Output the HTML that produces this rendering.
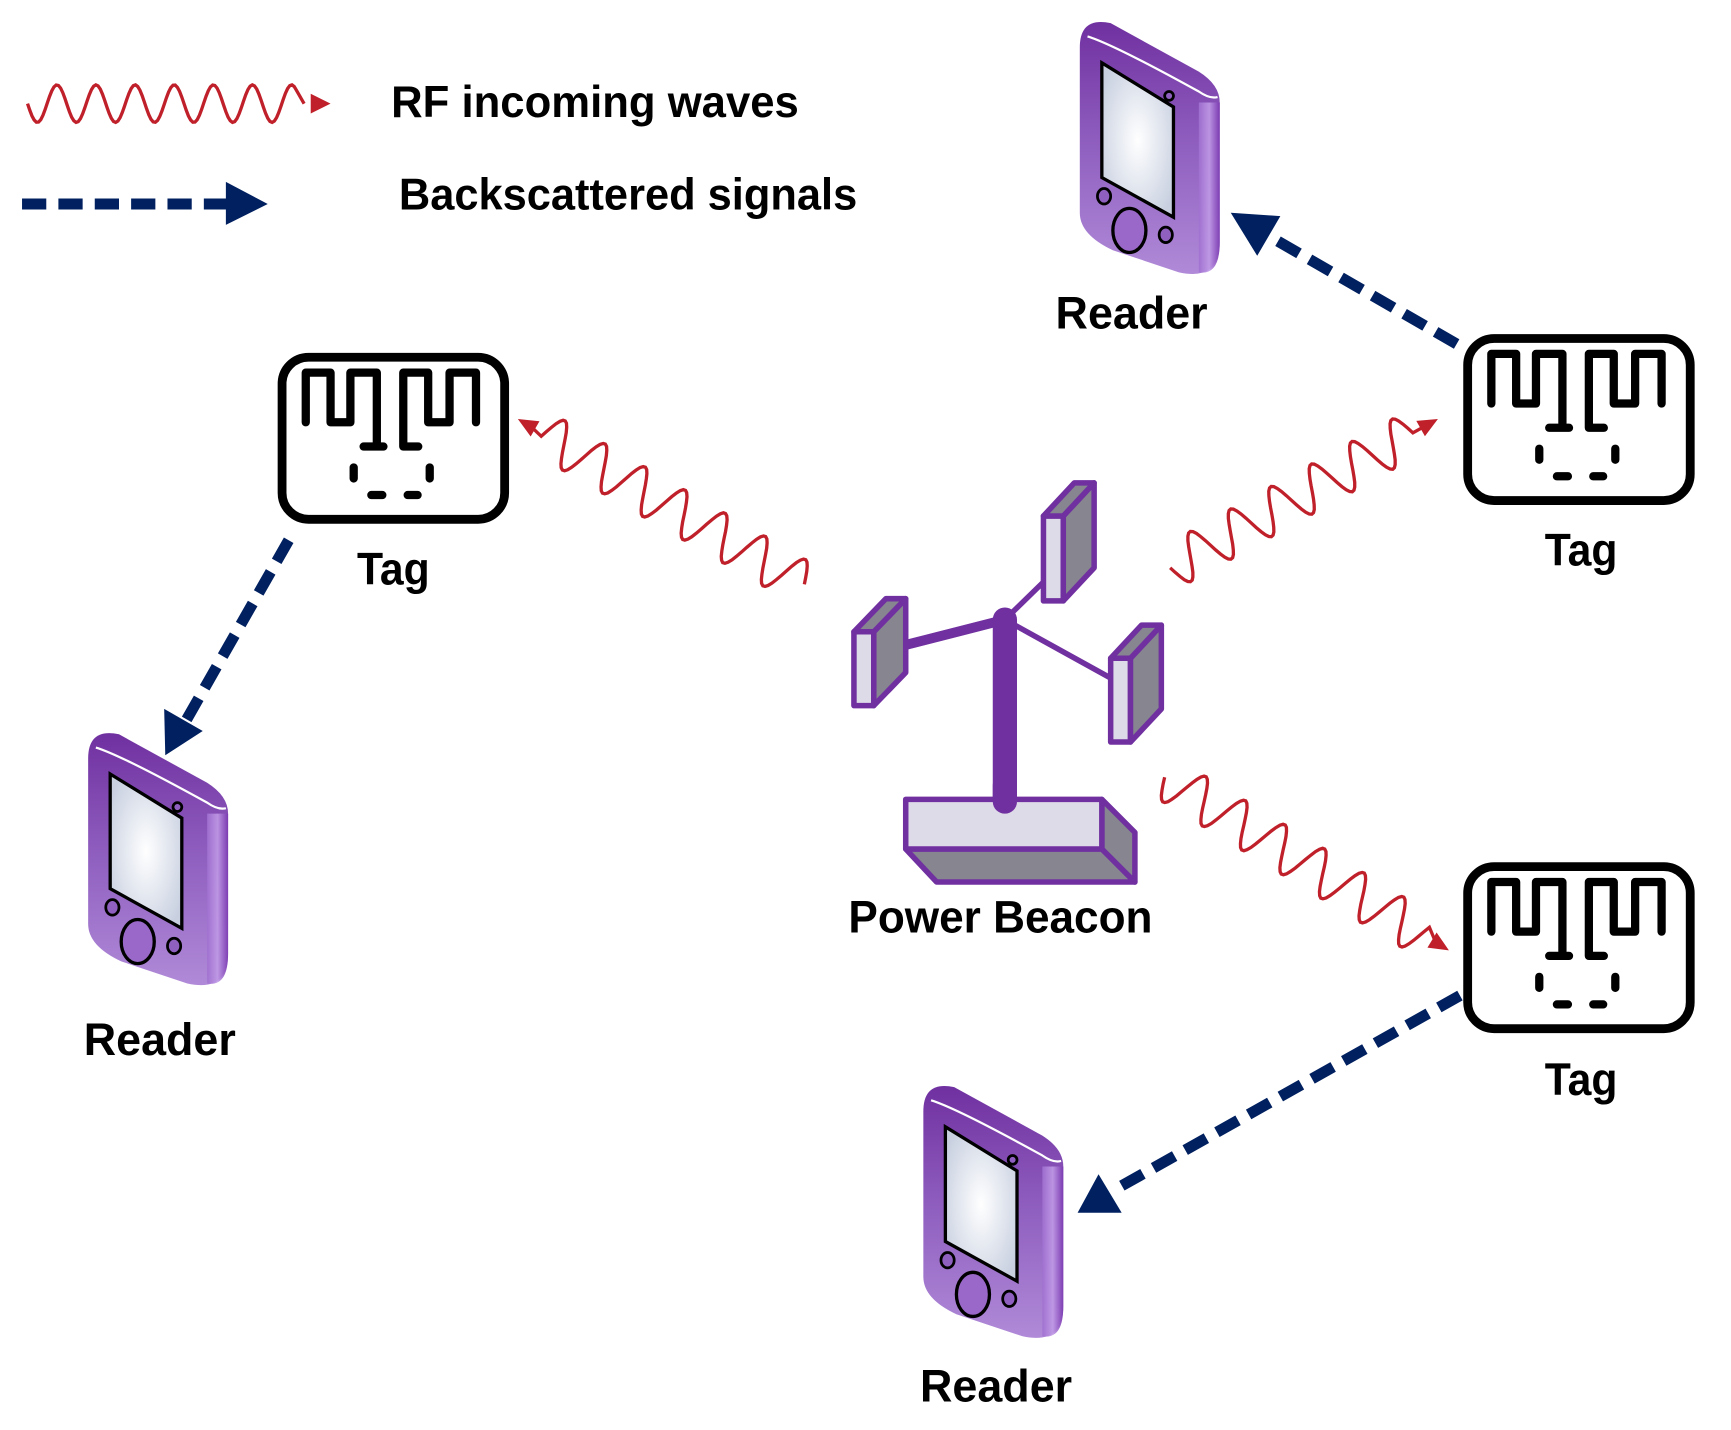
<!DOCTYPE html>
<html><head><meta charset="utf-8"><style>
html,body{margin:0;padding:0;background:#fff;}
svg{display:block;}
text{font-family:"Liberation Sans",sans-serif;font-weight:bold;fill:#000;}
</style></head><body>
<svg id="s" width="1731" height="1430" viewBox="0 0 1571 1297" preserveAspectRatio="none" xmlns="http://www.w3.org/2000/svg">
<defs>
<linearGradient id="bodyg" x1="0" y1="0" x2="0" y2="1">
<stop offset="0" stop-color="#7030a0"/><stop offset="0.5" stop-color="#9060c0"/><stop offset="1" stop-color="#b08ad8"/>
</linearGradient>
<linearGradient id="sideg" x1="0" y1="0" x2="1" y2="0">
<stop offset="0" stop-color="#a070d0"/><stop offset="0.5" stop-color="#c09ae6"/><stop offset="1" stop-color="#7a38b0"/>
</linearGradient>
<radialGradient id="scr" cx="0.5" cy="0.5" r="0.6">
<stop offset="0" stop-color="#ffffff"/><stop offset="1" stop-color="#c8d0e0"/>
</radialGradient>
<g id="reader">
<path d="M0,28 Q0,0 28,6 L108,50 Q127,62 127,78 L127,205 Q127,240 90,232 L30,212 Q0,198 0,178 Z" fill="url(#bodyg)"/>
<path d="M108,78 L127,78 L127,205 Q127,235 108,232 Z" fill="url(#sideg)" opacity="0.9"/>
<path d="M7,18 Q30,25 108,68 Q118,75 125,73" fill="none" stroke="#fff" stroke-width="2"/>
<polygon points="20,42 85,82 85,182 20,146" fill="url(#scr)" stroke="#000" stroke-width="3"/>
<circle cx="81" cy="72" r="4" fill="#9060c0" stroke="#000" stroke-width="2.5"/>
<ellipse cx="22" cy="163" rx="6" ry="7" fill="#9060c0" stroke="#000" stroke-width="2.5"/>
<ellipse cx="78" cy="198" rx="6" ry="7" fill="#9060c0" stroke="#000" stroke-width="2.5"/>
<ellipse cx="45" cy="194" rx="15" ry="20" fill="#9a68c8" stroke="#000" stroke-width="3"/>
</g>
<g id="tag" fill="none" stroke="#000" stroke-linecap="round" stroke-linejoin="round">
<rect x="4" y="4" width="202" height="147" rx="24" stroke-width="8"/>
<path d="M25.5,63 L25.5,18 L48,18 L48,63 L66,63 L66,18 L90,18 L90,81 M78,85 L96,85 M127.6,85 L114,85 L114,18 L136.6,18 L136.6,63 L156,63 L156,18 L180,18 L180,63" stroke-width="7.5"/>
<path d="M69,104 L69,114 M138,104 L138,114 M85,129 L95,129 M118,129 L127,129" stroke-width="7.5"/>
</g>
</defs>

<path id="w0" fill="none" stroke="#c0202a" stroke-width="3"/>
<polygon points="282,85 300,94 282,103" fill="#c0202a"/>
<line x1="20" y1="185" x2="207" y2="185" stroke="#002060" stroke-width="10" stroke-dasharray="22,11"/>
<polygon points="205,165 243,185 205,204" fill="#002060"/>
<text x="355" y="106" font-size="40" textLength="370" lengthAdjust="spacingAndGlyphs">RF incoming waves</text>
<text x="362" y="190" font-size="40" textLength="416" lengthAdjust="spacingAndGlyphs">Backscattered signals</text>

<use href="#reader" x="980" y="15"/>
<use href="#reader" x="80" y="660"/>
<use href="#reader" x="838" y="980"/>

<use href="#tag" x="252" y="320"/>
<use href="#tag" x="1328" y="303"/>
<use href="#tag" x="1328" y="782"/>

<g stroke="#7030a0" stroke-linejoin="round">
<line x1="912" y1="562" x2="822" y2="585" stroke-width="9"/>
<line x1="912" y1="562" x2="950" y2="525" stroke-width="5"/>
<line x1="912" y1="562" x2="1008" y2="615" stroke-width="5"/>
<line x1="912" y1="562" x2="912" y2="726" stroke-width="22" stroke-linecap="round"/>
<polygon points="775,573 793,573 793,640 775,640" fill="#dedbe8" stroke-width="5"/>
<polygon points="793,573 822,543 822,610 793,640" fill="#868590" stroke-width="5"/>
<polygon points="775,573 804,543 822,543 793,573" fill="#868590" stroke-width="5"/>
<polygon points="947,468 965,468 965,545 947,545" fill="#dedbe8" stroke-width="5"/>
<polygon points="965,468 993,438 993,515 965,545" fill="#868590" stroke-width="5"/>
<polygon points="947,468 975,438 993,438 965,468" fill="#868590" stroke-width="5"/>
<polygon points="1008,597 1026,597 1026,673 1008,673" fill="#dedbe8" stroke-width="5"/>
<polygon points="1026,597 1054,567 1054,643 1026,673" fill="#868590" stroke-width="5"/>
<polygon points="1008,597 1036,567 1054,567 1026,597" fill="#868590" stroke-width="5"/>
<polygon points="822,770 1000,770 1030,800 850,800" fill="#868590" stroke-width="5"/>
<polygon points="1000,725 1030,755 1030,800 1000,770" fill="#868590" stroke-width="5"/>
<rect x="822" y="725" width="178" height="45" fill="#dedbe8" stroke-width="5"/>
</g>
<line x1="912" y1="712" x2="912" y2="727" stroke="#7030a0" stroke-width="22" stroke-linecap="round"/>

<path id="w1" fill="none" stroke="#c0202a" stroke-width="3"/>
<path id="w2" fill="none" stroke="#c0202a" stroke-width="3"/>
<path id="w3" fill="none" stroke="#c0202a" stroke-width="3"/>
<polygon id="a1" fill="#c0202a"/>
<polygon id="a2" fill="#c0202a"/>
<polygon id="a3" fill="#c0202a"/>

<g stroke="#002060" stroke-width="10" stroke-dasharray="22,11" fill="none">
<line x1="1322" y1="312" x2="1148" y2="212"/>
<line x1="262" y1="490" x2="168" y2="655"/>
<line x1="1325" y1="903" x2="1010" y2="1080"/>
</g>
<polygon points="1117,193 1162,196 1141,232" fill="#002060"/>
<polygon points="150,685 149,643 184,663" fill="#002060"/>
<polygon points="978,1100 997,1065 1018,1100" fill="#002060"/>

<text x="1027" y="298" font-size="41" text-anchor="middle" textLength="138" lengthAdjust="spacingAndGlyphs">Reader</text>
<text x="357" y="530" font-size="41" text-anchor="middle" textLength="66" lengthAdjust="spacingAndGlyphs">Tag</text>
<text x="1435" y="513" font-size="41" text-anchor="middle" textLength="66" lengthAdjust="spacingAndGlyphs">Tag</text>
<text x="1435" y="993" font-size="41" text-anchor="middle" textLength="66" lengthAdjust="spacingAndGlyphs">Tag</text>
<text x="908" y="846" font-size="41" text-anchor="middle" textLength="276" lengthAdjust="spacingAndGlyphs">Power Beacon</text>
<text x="145" y="957" font-size="41" text-anchor="middle" textLength="138" lengthAdjust="spacingAndGlyphs">Reader</text>
<text x="904" y="1271" font-size="41" text-anchor="middle" textLength="138" lengthAdjust="spacingAndGlyphs">Reader</text>
</svg>
<script>
function wave(id,x1,y1,x2,y2,amp,wl,tail){
  var dx=x2-x1,dy=y2-y1,L=Math.sqrt(dx*dx+dy*dy),ux=dx/L,uy=dy/L,nx=-uy,ny=ux;
  var d="",wL=L-tail;
  for(var t=0;t<=wL;t+=2){
    var o=amp*Math.sin(t/wl*2*Math.PI);
    var x=x1+ux*t+nx*o,y=y1+uy*t+ny*o;
    d+=(t==0?"M":"L")+x.toFixed(1)+","+y.toFixed(1);
  }
  d+="L"+(x2-ux*14).toFixed(1)+","+(y2-uy*14).toFixed(1);
  document.getElementById(id).setAttribute("d",d);
}
function head(id,x1,y1,x2,y2){
  var dx=x2-x1,dy=y2-y1,L=Math.sqrt(dx*dx+dy*dy),ux=dx/L,uy=dy/L,nx=-uy,ny=ux;
  var p=[[x2,y2],[x2-ux*18+nx*8,y2-uy*18+ny*8],[x2-ux*18-nx*8,y2-uy*18-ny*8]];
  document.getElementById(id).setAttribute("points",p.map(function(a){return a[0].toFixed(1)+","+a[1].toFixed(1)}).join(" "));
}
wave("w0",25,94,290,94,17,35.5,20);
wave("w1",730,530,470,380,20,42,25); head("a1",730,530,470,380);
wave("w2",1062,515,1305,380,20,42,25); head("a2",1062,515,1305,380);
wave("w3",1057,705,1315,862,20,42,25); head("a3",1057,705,1315,862);
</script>
</body></html>
